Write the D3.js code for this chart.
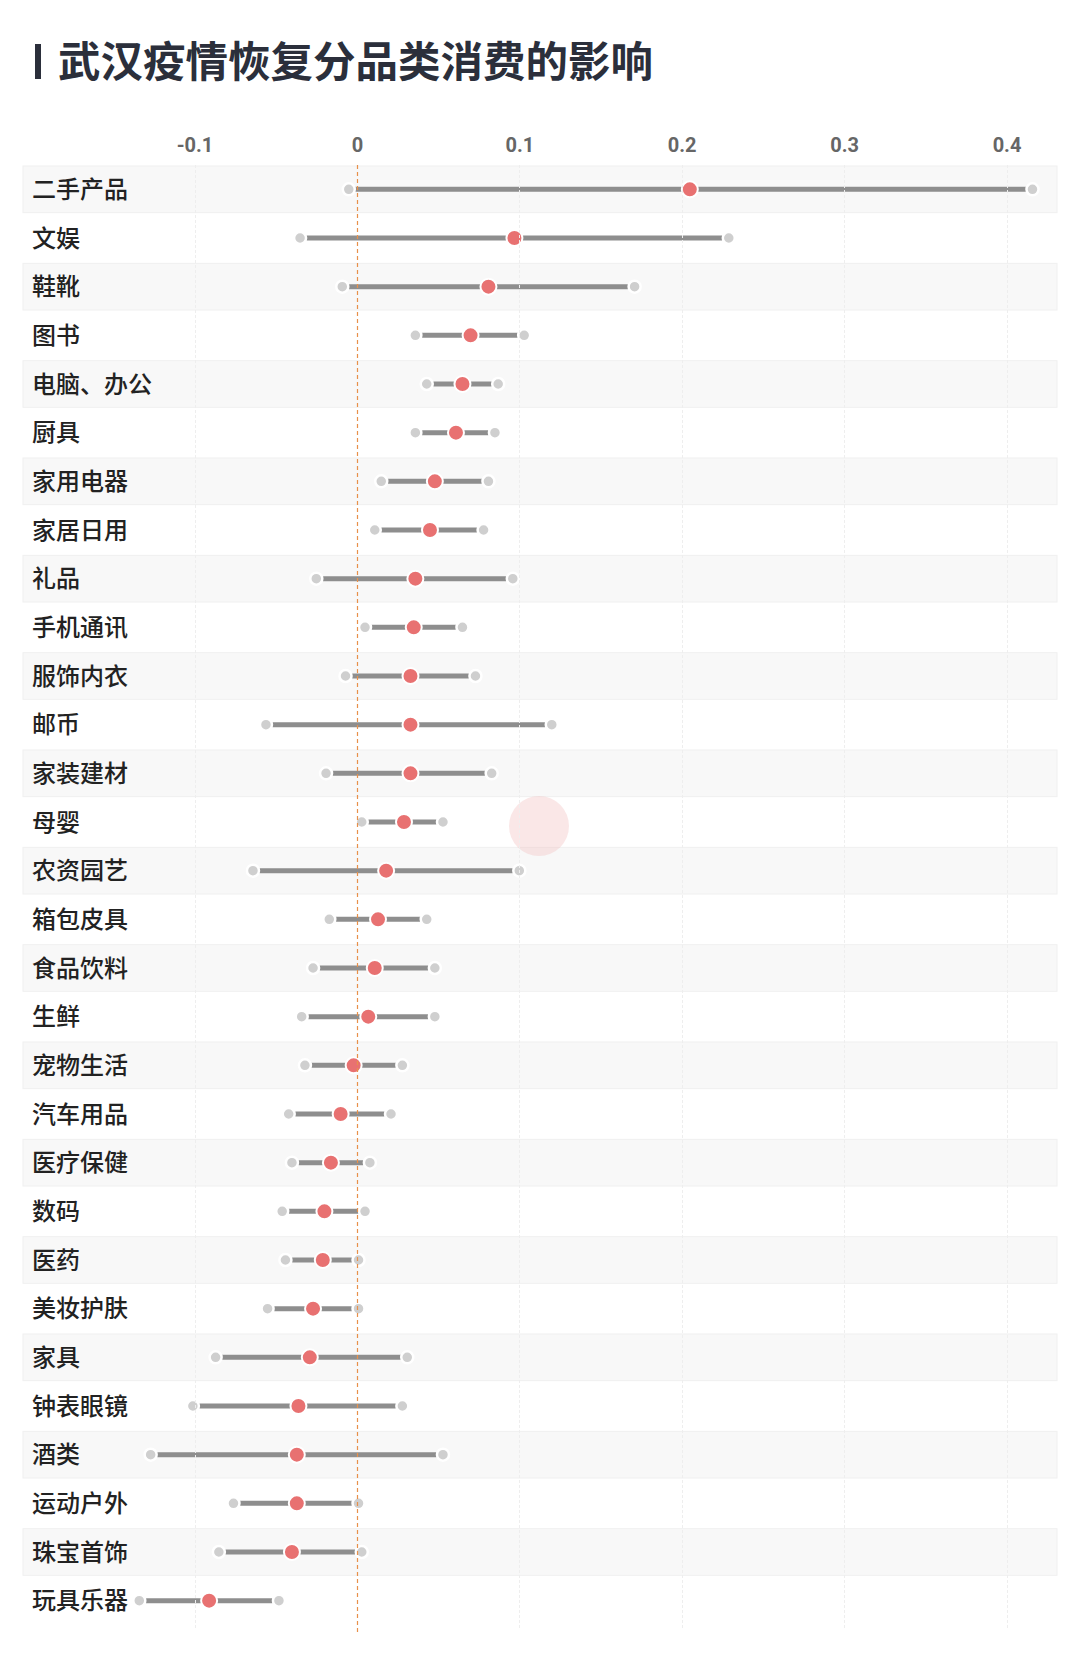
<!DOCTYPE html>
<html lang="zh">
<head>
<meta charset="UTF-8">
<title>武汉疫情恢复分品类消费的影响</title>
<style>
  body { margin: 0; background: #fff; }
  svg { display: block; }
  .label { font-family: "Noto Sans CJK SC", sans-serif; font-size: 24px; font-weight: 500; fill: #222; }
  .tick text { font-family: Roboto, "DejaVu Sans", sans-serif; font-size: 20px; font-weight: bold; fill: #666; }
</style>
<script src="https://d3js.org/d3.v7.min.js"></script>
</head>
<body>
<div id="chart"></div>
<script>
// categories top to bottom
const categories = ["二手产品", "文娱", "鞋靴", "图书", "电脑、办公", "厨具", "家用电器", "家居日用", "礼品", "手机通讯",
  "服饰内衣", "邮币", "家装建材", "母婴", "农资园艺", "箱包皮具", "食品饮料", "生鲜", "宠物生活", "汽车用品",
  "医疗保健", "数码", "医药", "美妆护肤", "家具", "钟表眼镜", "酒类", "运动户外", "珠宝首饰", "玩具乐器"];
const lowValues = [-0.005, -0.035, -0.009, 0.036, 0.043, 0.036, 0.015, 0.011, -0.025, 0.005,
  -0.007, -0.056, -0.019, 0.003, -0.064, -0.017, -0.027, -0.034, -0.032, -0.042,
  -0.040, -0.046, -0.044, -0.055, -0.087, -0.101, -0.127, -0.076, -0.085, -0.134];
const midValues = [0.205, 0.097, 0.081, 0.070, 0.065, 0.061, 0.048, 0.045, 0.036, 0.035,
  0.033, 0.033, 0.033, 0.029, 0.018, 0.013, 0.011, 0.007, -0.002, -0.010,
  -0.016, -0.020, -0.021, -0.027, -0.029, -0.036, -0.037, -0.037, -0.040, -0.091];
const highValues = [0.416, 0.229, 0.171, 0.103, 0.087, 0.085, 0.081, 0.078, 0.096, 0.065,
  0.073, 0.120, 0.083, 0.053, 0.100, 0.043, 0.048, 0.048, 0.028, 0.021,
  0.008, 0.005, 0.001, 0.001, 0.031, 0.028, 0.053, 0.001, 0.003, -0.048];
const tickValues = [-0.1, 0, 0.1, 0.2, 0.3, 0.4];
const tickLabels = ["-0.1", "0", "0.1", "0.2", "0.3", "0.4"];

const width = 1080, height = 1655;
const svg = d3.select("#chart").append("svg")
  .attr("width", width).attr("height", height);

// title
svg.append("rect").attr("x", 35).attr("y", 44).attr("width", 6).attr("height", 35).attr("fill", "#2b2f3b");
svg.append("text")
  .attr("x", 58).attr("y", 77)
  .style("font-family", "'Noto Sans CJK SC', sans-serif")
  .style("font-size", "42.5px").style("font-weight", "bold").style("fill", "#2b2f3b")
  .text("武汉疫情恢复分品类消费的影响");

const x = d3.scaleLinear().domain([-0.1, 0.4]).range([194.5, 1006.5]);
const y = d3.scaleBand().domain(categories).range([165, 1625]);

const rows = categories.map((c, i) => ({ name: c, lo: lowValues[i], mid: midValues[i], hi: highValues[i], i }));

// striped row backgrounds
svg.append("g").selectAll("rect")
  .data(rows.filter(d => d.i % 2 === 0))
  .enter().append("rect")
  .attr("x", 23).attr("width", 1034)
  .attr("y", d => y(d.name) + 1).attr("height", y.bandwidth() - 2)
  .attr("fill", "#f8f8f8").attr("stroke", "#f0f0f0");

// watermark
svg.append("circle").attr("cx", 539).attr("cy", 826).attr("r", 30)
  .attr("fill", "#f3c4c4").attr("opacity", 0.4);

// axis on top
const axis = svg.append("g")
  .attr("transform", "translate(0,158)")
  .call(d3.axisTop(x).tickValues(tickValues).tickSize(0).tickPadding(6)
    .tickFormat((d, i) => tickLabels[i]));
axis.select(".domain").remove();

const rowG = svg.append("g").selectAll("g")
  .data(rows).enter().append("g")
  .attr("transform", d => `translate(0,${y(d.name) + y.bandwidth() / 2})`);

rowG.append("text").attr("class", "label")
  .attr("x", 32).attr("dy", "0.36em")
  .text(d => d.name);

rowG.append("line")
  .attr("x1", d => x(d.lo)).attr("x2", d => x(d.hi))
  .attr("stroke", "#8e8e8e").attr("stroke-width", 5);

// grid lines above bars
svg.append("g").selectAll("line")
  .data(tickValues.filter(t => t !== 0))
  .enter().append("line")
  .attr("x1", d => Math.round(x(d)) + 0.5).attr("x2", d => Math.round(x(d)) + 0.5)
  .attr("y1", 165).attr("y2", 1630)
  .attr("stroke", "#eeeeee").attr("stroke-width", 1).attr("stroke-dasharray", "3,2");

const zx = Math.round(x(0)) + 0.5;
svg.append("line")
  .attr("x1", zx).attr("x2", zx)
  .attr("y1", 165).attr("y2", 1632)
  .attr("stroke", "#e8904a").attr("stroke-width", 1.2).attr("stroke-dasharray", "4,3");

rowG.selectAll("circle.end")
  .data(d => [d.lo, d.hi]).enter().append("circle")
  .attr("class", "end")
  .attr("cx", v => x(v)).attr("cy", 0).attr("r", 6)
  .attr("fill", "#cfcfcf").attr("stroke", "#fff").attr("stroke-width", 2.5);

rowG.append("circle")
  .attr("cx", d => x(d.mid)).attr("cy", 0).attr("r", 8)
  .attr("fill", "#e87171").attr("stroke", "#fff").attr("stroke-width", 2);
</script>
</body>
</html>
